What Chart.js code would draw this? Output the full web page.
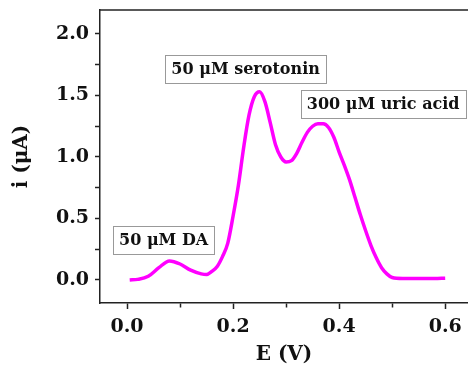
<!DOCTYPE html>
<html>
<head>
<meta charset="utf-8">
<script src="https://cdn.jsdelivr.net/npm/chart.js@4/dist/chart.umd.min.js"></script>
<style>
html,body{margin:0;padding:0;background:#fff;overflow:hidden;}
canvas{display:block;}
</style>
</head>
<body>
<canvas id="c" width="468" height="367"></canvas>
<script>
// ---- data ----
const potentials = [0.005,0.02,0.04,0.06,0.08,0.10,0.12,0.14,0.15,0.16,0.17,0.18,0.19,0.20,0.21,0.22,0.23,0.24,0.25,0.26,0.27,0.28,0.29,0.30,0.31,0.32,0.33,0.34,0.35,0.36,0.37,0.38,0.39,0.40,0.41,0.42,0.43,0.44,0.45,0.46,0.47,0.48,0.49,0.50,0.52,0.55,0.58,0.60];
const currents   = [0.0,0.005,0.03,0.10,0.155,0.13,0.08,0.05,0.045,0.07,0.11,0.19,0.30,0.52,0.77,1.08,1.34,1.49,1.53,1.45,1.28,1.10,1.00,0.96,0.97,1.03,1.12,1.20,1.25,1.27,1.27,1.24,1.16,1.04,0.93,0.81,0.67,0.53,0.40,0.28,0.18,0.10,0.05,0.02,0.012,0.012,0.012,0.015];
const xTicks = [0.0,0.1,0.2,0.3,0.4,0.5,0.6];
const yTicks = [0.0,0.25,0.5,0.75,1.0,1.25,1.5,1.75,2.0];
const annoLabels = ['50 \u03BCM serotonin','300 \u03BCM uric acid','50 \u03BCM DA'];
const annoX = [0.2236,0.483,0.069];
const annoY = [1.715,1.431,0.325];

const FONT = "'DejaVu Serif', serif";
const AXC = '#222';

const framePlugin = {
  id:'frameTop',
  afterDraw(chart){
    const a = chart.chartArea, ctx = chart.ctx;
    ctx.save();
    ctx.strokeStyle = AXC; ctx.lineWidth = 1.5;
    ctx.beginPath(); ctx.moveTo(a.left, a.top); ctx.lineTo(chart.width, a.top); ctx.stroke();
    ctx.restore();
  }
};

const annoPlugin = {
  id:'anno',
  afterDatasetsDraw(chart){
    const ctx = chart.ctx;
    const xs = chart.scales.x, ys = chart.scales.y;
    ctx.save();
    ctx.font = "bold 16px " + FONT;
    ctx.textAlign = 'center';
    ctx.textBaseline = 'middle';
    annoLabels.forEach((t,i)=>{
      const cx = xs.getPixelForValue(annoX[i]);
      const cy = ys.getPixelForValue(annoY[i]);
      const w = ctx.measureText(t).width + 12;
      const h = 28;
      ctx.fillStyle = '#fff';
      ctx.fillRect(cx-w/2, cy-h/2, w, h);
      ctx.strokeStyle = '#999';
      ctx.lineWidth = 1;
      ctx.strokeRect(Math.round(cx-w/2)+0.5, Math.round(cy-h/2)+0.5, Math.round(w), h);
      ctx.fillStyle = '#111';
      ctx.fillText(t, cx, cy+1);
    });
    ctx.restore();
  }
};

new Chart(document.getElementById('c'), {
  type:'line',
  data:{
    datasets:[{
      data: potentials.map((x,i)=>({x:x,y:currents[i]})),
      borderColor:'#ff00ff',
      borderWidth:3.5,
      pointRadius:0,
      fill:false,
      cubicInterpolationMode:'monotone'
    }]
  },
  options:{
    responsive:false,
    animation:false,
    layout:{padding:{top:10,right:0,left:0,bottom:0}},
    plugins:{legend:{display:false},tooltip:{enabled:false}},
    scales:{
      x:{
        type:'linear', position:'bottom', min:-0.051, max:0.643,
        afterBuildTicks(s){ s.ticks = xTicks.map(v=>({value:v})); },
        afterFit(s){ s.height = 64; s.paddingLeft = 0; s.paddingRight = 0; },
        ticks:{
          color:'#111', padding:7, maxRotation:0, autoSkip:false,
          font:{family:FONT, size:19, weight:'bold'},
          callback(v){ const r=Math.round(v*10); return r%2===0 ? v.toFixed(1) : ''; }
        },
        grid:{display:true, drawOnChartArea:false, drawTicks:true, tickLength:6, tickColor:AXC, tickWidth:1.5,
          tickBorderDash(ctx){ const r=Math.round(ctx.tick.value*10); return r%2===0 ? [] : [4,20]; }
        },
        border:{display:true, color:AXC, width:1.5},
        title:{display:true, text:'E (V)', color:'#111', padding:{top:0,bottom:0}, font:{family:FONT, size:20, weight:'bold'}}
      },
      y:{
        type:'linear', position:'left', min:-0.187, max:2.195,
        afterBuildTicks(s){ s.ticks = yTicks.map(v=>({value:v})); },
        afterFit(s){ s.width = 100; s.paddingTop = 0; s.paddingBottom = 0; },
        ticks:{
          color:'#111', padding:6, autoSkip:false,
          font:{family:FONT, size:19, weight:'bold'},
          callback(v){ const r=Math.round(v*100); return r%50===0 ? v.toFixed(1) : ''; }
        },
        grid:{display:true, drawOnChartArea:false, drawTicks:true, tickLength:5, tickColor:AXC, tickWidth:1.5},
        border:{display:true, color:AXC, width:1.5},
        title:{display:true, text:'i (\u03BCA)', color:'#111', padding:{top:10,bottom:0}, font:{family:FONT, size:20, weight:'bold'}}
      }
    }
  },
  plugins:[annoPlugin, framePlugin]
});
</script>
</body>
</html>
